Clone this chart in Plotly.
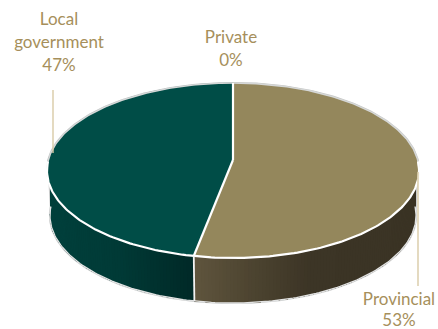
import numpy as np
import plotly.graph_objects as go

categories = ["Provincial", "Local government", "Private"]
shares = [53, 47, 0]
top_colors = ["#94875C", "#004D47", "#94875C"]
# Wall shading stops as (screen x, colour) for each category
wall_stops = {
    "Provincial": [(193, (96, 85, 62)), (250, (78, 69, 49)), (310, (60, 53, 38)), (420, (58, 51, 36))],
    "Local government": [(46, (0, 64, 60)), (120, (0, 58, 54)), (190, (0, 42, 40))],
}
label_lines = {
    "Local government": (["Local", "government", "47%"], 59, [21, 44, 67]),
    "Private": (["Private", "0%"], 231, [39, 62]),
    "Provincial": (["Provincial", "53%"], 399, [301, 322]),
}
text_color = "#A68F5B"
leader_color = "#D9CBA6"

# Tilted disc projection
CX, CY, A, K, C = 233.0, 160.0, 86.24, 184.7, 0.12
DEPTH, SHRINK = 45.0, 0.984
WALL_START, WALL_END = 0.30, 0.70  # wall top edge stays on the rim between these


def project(frac):
    """Screen position of a rim point; frac is the clockwise share of a turn from 12 o'clock."""
    t = 2 * np.pi * np.asarray(frac, dtype=float)
    u, v = np.sin(t), np.cos(t)
    w = 1 + C * v
    return CX + K * u / w, CY - A * v / w


def lower(x, y):
    return CX + (x - CX) * SHRINK, y + DEPTH


def shade(stops, x):
    xs = [s[0] for s in stops]
    rgb = [np.interp(x, xs, [s[1][i] for s in stops]) for i in range(3)]
    return "rgb(%d,%d,%d)" % tuple(int(round(c)) for c in rgb)


fig = go.Figure()


def poly(xs, ys, fill=None, line=None, width=0, close=False):
    fig.add_trace(go.Scatter(
        x=list(xs), y=list(ys), mode="lines",
        fill="toself" if close else "none", fillcolor=fill,
        line=dict(color=line or fill or "rgba(0,0,0,0)", width=width),
        hoverinfo="skip", showlegend=False,
    ))


total = sum(shares)
edges = np.cumsum([0] + shares) / total

# Silver outline behind the whole body
ring = np.linspace(0, 1, 361)
rx, ry = project(ring)
bx, by = lower(rx, ry)
front = (ring > 0.25) & (ring < 0.75)
sil_x = np.concatenate([rx[ring <= 0.25], bx[front], rx[ring >= 0.75]])
sil_y = np.concatenate([ry[ring <= 0.25], by[front], ry[ring >= 0.75]])
poly(sil_x, sil_y, fill="#F4F4F4", line="#C9CBCB", width=2.2, close=True)

# Side wall: overlapping shaded strips, painted from each slice's start
for i, name in enumerate(categories):
    if shares[i] == 0:
        continue
    lo, hi = max(edges[i], 0.25), min(edges[i + 1], 0.75)
    steps = np.linspace(lo, hi, int((hi - lo) * 360) + 2)
    for n, a in enumerate(steps[:-1]):
        # Each strip reaches to the slice's far end; later strips repaint all but their first step
        frac = np.linspace(a, hi, 2 + int((hi - a) * 120))
        xa, ya = project(np.clip(frac, WALL_START, WALL_END))
        xb, yb = lower(*project(frac))
        col = shade(wall_stops[name], project(a)[0])
        poly(np.r_[xa, xb[::-1], xa[0]], np.r_[ya, yb[::-1], ya[0]], fill=col, close=True)

# Top faces
for i, name in enumerate(categories):
    if shares[i] == 0:
        continue
    px, py = project(np.linspace(edges[i], edges[i + 1], 200))
    poly(np.r_[CX, px, CX], np.r_[CY, py, CY], fill=top_colors[i], width=0.5, close=True)

# Rim highlights and slice separators
poly(rx[ring <= 0.27], ry[ring <= 0.27], line="#D5D7D7", width=1.6)
poly(rx[ring >= 0.73], ry[ring >= 0.73], line="#D5D7D7", width=1.6)
poly(rx[front], ry[front], line="#FFFFFF", width=2.2)
poly(bx[front], by[front], line="#E2E3E3", width=1.4)
for e in edges[:2]:
    ex, ey = project(e)
    poly([CX, ex], [CY, ey], line="#FFFFFF", width=2.2)
    if 0.25 < e < 0.75:
        lx, ly = lower(ex, ey)
        poly([ex, lx], [ey, ly], line="#F2F2F2", width=1.8)

# Leader lines
poly([53, 53], [90, 153], line=leader_color, width=1.4)
poly([418, 418], [172, 286], line=leader_color, width=1.4)

# Category names and shares
for name, (lines, x, ys) in label_lines.items():
    fig.add_trace(go.Scatter(
        x=[x] * len(lines), y=ys, text=lines, mode="text", textposition="middle center",
        textfont=dict(family="Lato", size=17, color=text_color),
        hoverinfo="skip", showlegend=False, cliponaxis=False,
    ))

fig.update_layout(
    width=438, height=329, margin=dict(l=0, r=0, t=0, b=0),
    paper_bgcolor="white", plot_bgcolor="white", showlegend=False,
    xaxis=dict(range=[0, 438], visible=False, fixedrange=True),
    yaxis=dict(range=[329, 0], visible=False, fixedrange=True),
)
fig.write_html("out.html", config={"displayModeBar": False})
